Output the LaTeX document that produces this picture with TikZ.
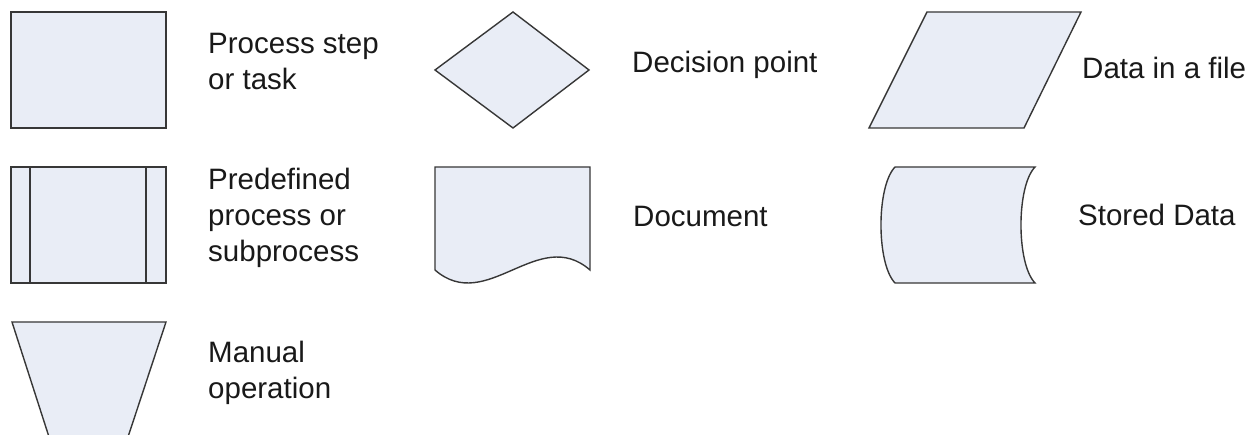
\documentclass[tikz,border=0pt]{standalone}
\usepackage{fontspec}
\setmainfont{Liberation Sans}
\definecolor{shapefill}{RGB}{233,237,246}
\definecolor{shapeline}{RGB}{55,55,55}
\definecolor{txt}{RGB}{25,25,25}
\begin{document}
\begin{tikzpicture}[x=1pt,y=-1pt,
  shp/.style={fill=shapefill,draw=shapeline,line width=1.4pt,line join=miter},
  lbl/.style={anchor=base west,inner sep=0pt,align=left,text=txt,
    font=\fontsize{29.5}{36}\selectfont}]
\useasboundingbox (0,0) rectangle (1248,435);
\clip (0,0) rectangle (1248,435);
\fill[white] (0,0) rectangle (1248,435);
% Process step
\draw[shp] (11,12) rectangle (166,128);
\node[lbl] (tprocess) at (208,90) {Process step\\or task};
% Predefined process
\draw[shp] (11,167) rectangle (166,283);
\draw[shp] (30,167) -- (30,283);
\draw[shp] (146,167) -- (146,283);
\node[lbl] (tpredef) at (208,262) {Predefined\\process or\\subprocess};
% Manual operation
\fill[shapefill] (12,322) -- (166,322) -- (127,440) -- (50,440) -- cycle;
\draw[shp,fill=none] (50,440) -- (12,322) -- (166,322) -- (127,440);
\node[lbl] (tmanual) at (208,399) {Manual\\operation};
% Decision
\draw[shp] (435,70) -- (513,12) -- (589,70) -- (513,128) -- cycle;
\node[lbl] (tdecision) at (632,73) {Decision point};
% Document
\draw[shp] (435,167) -- (590,167) -- (590,270)
  .. controls (538.3,225) and (486.7,315) .. (435,270) -- cycle;
\node[lbl] (tdocument) at (633,227) {Document};
% Data in a file
\draw[shp] (927,12) -- (1081,12) -- (1024,128) -- (869,128) -- cycle;
\node[lbl] (tdata) at (1082,79) {Data in a file};
% Stored data
\draw[shp] (895,167) -- (1035,167)
  .. controls (1016.3,186.3) and (1016.3,263.7) .. (1035,283)
  -- (895,283)
  .. controls (876.3,263.7) and (876.3,186.3) .. (895,167) -- cycle;
\node[lbl] (tstored) at (1078,226) {Stored Data};
\end{tikzpicture}
\end{document}
